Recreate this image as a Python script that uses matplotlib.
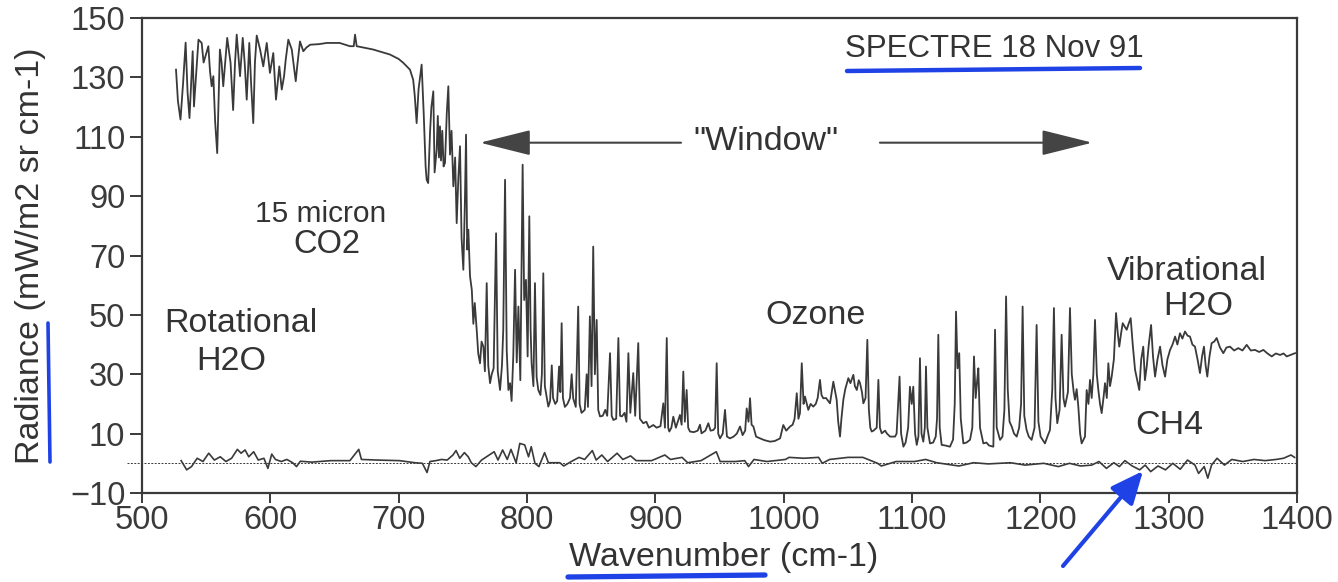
import matplotlib
matplotlib.use("Agg")
import matplotlib.pyplot as plt
from matplotlib.lines import Line2D
from matplotlib.patches import FancyArrowPatch

plt.rcParams['font.family'] = ['Liberation Sans', 'DejaVu Sans']

# ---- data: main spectrum, read region by region ------------------------
wn_rot = [526.5, 528, 530, 532, 534, 535.5, 537, 539.5, 540.5, 542, 544, 546.5, 548, 550, 551.7,
          553, 554.3, 555.6, 557, 558.6, 559.5, 560.7, 562, 563.3, 565, 566.4, 569, 571, 572.5,
          573.8, 575, 576.4, 578.5, 580, 581.6, 583.6, 585, 586.7, 588, 589.4, 592, 594.5, 597.2,
          599.7, 602.3, 604.4, 607, 608.9, 610.7, 612, 614, 616.7, 619.8, 621, 623.1, 625.7, 628,
          631]
rad_rot = [132.6, 122, 115.8, 128, 141.7, 125, 116.3, 138.8, 120.2, 130, 142.7, 141.6, 135, 138,
           140.5, 132, 127, 130.4, 115, 104.5, 120, 139.4, 135, 127, 136, 143.3, 134.9, 119, 135,
           144.4, 138, 130.4, 143.3, 135, 122.5, 141.6, 128, 114.6, 135, 144.1, 139.4, 133.7,
           141.6, 131.5, 138.2, 122.5, 133.7, 125.9, 130.4, 136, 142.7, 139.4, 128.7, 134, 142.1,
           138.8, 140, 141]

wn_co2 = [638, 644, 654, 662, 665, 666, 667.3, 680, 693.2, 700, 703.6, 708.8, 711.3, 712.5, 714,
          715.5, 717.9, 719.5, 721, 721.8, 723, 724.5, 725.5, 727, 728, 729.6, 730.5, 731.4, 732.2,
          733, 734, 735, 736.1, 737.5, 738.7, 740, 741.2, 742.6, 744, 745.2, 746.5, 747.8, 749,
          750.4, 751.6, 752.5, 753.4, 754.3, 755.6, 757, 758.2, 759.3]
rad_co2 = [141.2, 141.6, 141.6, 140.5, 140.5, 144.4, 140.5, 139.4, 137.7, 136.2, 134.9, 132.6,
           129.2, 124, 114.6, 126, 134.3, 118, 100, 95.5, 94.4, 112, 120, 125.3, 98, 105.6, 117,
           103, 113.5, 102, 112, 100, 101.2, 118, 127, 104, 112, 93.3, 103, 80.9, 96, 106.8, 76,
           65.2, 88, 110.7, 72, 78.7, 63, 58.4, 47, 54]

wn_edge = [760.8, 762, 763.4, 764.6, 766, 767.2, 768.6, 769.8, 771.2, 772.5, 774, 775.9, 777.2,
           779, 780.5, 781.5, 782.9, 784.2, 785.5, 786.8, 788, 789.3, 790.7, 792, 793.3, 794.8,
           796.6, 797.8, 799.2, 800.5, 801.8, 802.8, 803.6, 805, 806.2, 807.5, 808.8, 810.5, 811.6,
           812.7, 813.9, 815.5, 816.6, 818, 819.3, 820.3, 822, 823.5, 825, 826, 827, 828, 829.5,
           831.5, 833.5, 834.8, 836, 838, 839.9, 841, 842.5, 845, 846.5, 847.5, 849, 850.3, 851.6,
           852.9, 854.3, 855.5, 856.9, 859, 861, 862.5, 864.7, 866, 867.3, 869.5, 871.2, 872.5, 874,
           876, 877.5, 879, 880.5, 882.8, 884.3, 886.7, 888, 890.6, 893, 895, 898.4]
rad_edge = [45, 37, 33.7, 41, 39.3, 31, 60.7, 33, 27, 30, 32, 77.5, 31, 24.7, 33, 45, 95.5, 38,
            24.7, 27, 21, 36, 65.2, 34, 52.8, 28, 100.6, 55, 61.8, 36, 83.2, 45, 33.7, 26, 60.7, 29,
            24.7, 23, 30, 64, 26, 22, 19.1, 21, 33, 22, 20, 21, 32.6, 24, 47.2, 22, 19, 20, 22, 30,
            21.9, 19, 52.8, 20, 17, 18, 30, 19, 49.5, 26, 73, 30, 48.3, 18, 15.8, 16, 18, 16, 37.1,
            16, 14.6, 15, 42.2, 16, 15.8, 17, 14, 37.1, 17, 30.4, 16, 40.5, 15, 13.5, 14, 12, 12.9]

wn_win = [901, 904, 906.2, 907.5, 908.9, 910, 910.9, 912.5, 914, 916, 917.5, 919.2, 920.5, 921.8,
          923, 924.4, 925.6, 927, 930, 933, 934.8, 936, 939, 941.3, 943, 945.2, 946.6, 947.8, 949,
          950.4, 952.5, 954.3, 955.8, 958.2, 961, 963.5, 966, 968, 970, 971.2, 972.6, 973.8, 975,
          976.4, 978.5, 981.6, 985, 989.4, 993, 997.2]
rad_win = [12, 12.5, 20.2, 12, 42.2, 12, 10.7, 12, 15.7, 12, 14, 16.3, 13, 30.9, 14, 24.7, 12,
           10.7, 10.5, 11, 13, 10.1, 11, 13.5, 11, 11.2, 12, 33.7, 10, 8.4, 10, 18, 9, 8.4, 9, 10,
           12.4, 9.5, 11, 18.5, 14, 21.9, 13, 12.4, 9, 8.4, 7.8, 7.3, 7.5, 8.4]

wn_o3 = [999.7, 1002, 1005, 1007, 1008.5, 1010.2, 1011.5, 1012.7, 1014.1, 1015.5, 1016.6, 1019.2,
         1021, 1023.1, 1025, 1026.5, 1028.3, 1029.5, 1030.9, 1033, 1036.1, 1038.7, 1041.3, 1042.5,
         1043.9, 1045, 1046.5, 1048, 1050.4, 1052, 1054.3, 1055.5, 1057, 1058.5, 1059.5, 1061,
         1062.1, 1063.8, 1065.2, 1066.4, 1067.5, 1068.6, 1070, 1072.5, 1073.8, 1075, 1076.4, 1079,
         1080.5, 1082.9, 1086.8, 1088, 1090.3, 1091.5, 1093.3, 1095, 1097, 1098.4, 1099.8, 1101,
         1102.4, 1103.7, 1105, 1106.2, 1107.4, 1108.8, 1110, 1110.9, 1112, 1114, 1116.5, 1118.5,
         1119.5, 1120.5, 1121.6, 1123.1, 1126, 1129.6]
rad_o3 = [12.9, 11, 12.4, 13, 15, 23.6, 15, 16.9, 33.7, 20, 22.5, 18, 20, 19.1, 20, 22, 28.1, 23,
          21.9, 22, 20.2, 27.5, 21.4, 14, 9, 15, 21.4, 25, 28.7, 27, 29.8, 26, 24.7, 28, 27, 24,
          20.2, 22, 41.6, 18, 12, 10.7, 11, 12, 28.1, 12, 10.1, 11, 10, 9, 9, 10, 29.2, 10, 5.6, 7,
          12, 25.8, 20, 25.8, 10, 6.2, 9, 35.4, 10, 7.3, 12, 32.6, 12, 6.7, 7, 9, 15, 43.3, 12, 6.2,
          6, 5.6]

wn_lines = [1132, 1133.3, 1134.3, 1135.5, 1136.8, 1138, 1140, 1142.5, 1145.2, 1147, 1148.3, 1149.6,
            1150.8, 1151.7, 1153, 1155.6, 1158, 1160, 1163.4, 1164.7, 1166, 1168.6, 1170.5, 1172,
            1173.3, 1174.6, 1176, 1177.7, 1179.5, 1181.6, 1183.5, 1185, 1186.2, 1187.5, 1189.3,
            1191, 1193.2, 1195.5, 1197.1, 1198.5, 1200.2, 1203.6, 1205.5, 1207.5, 1209.3, 1210.6,
            1211.8, 1213.2, 1215, 1216.6, 1218, 1219.2, 1221.5, 1223.1, 1224.5, 1226, 1227, 1228.3,
            1229.6, 1231, 1232.2, 1234.8]
rad_lines = [8, 20, 51.1, 32, 37.1, 15, 6.7, 7, 7.9, 12, 36, 22, 28, 32, 12, 6.7, 7, 6, 5.6, 45,
             12, 7.9, 9, 18, 56.2, 25, 14, 12.4, 10, 9, 12, 20, 52.8, 16, 11.2, 9, 7.9, 12, 46.6,
             14, 9, 6.7, 9, 11.2, 25, 52.3, 22, 13.5, 18, 43.3, 22, 19.1, 24, 52.3, 30, 24, 21.4,
             25, 19.1, 10, 6.7, 9]

wn_vib = [1236.1, 1237.5, 1238.7, 1240, 1241.3, 1242.6, 1244, 1245.2, 1246.5, 1247.8, 1249.2,
          1250.4, 1251.8, 1253, 1254.3, 1255.6, 1257.3, 1259, 1260.3, 1261.5, 1263, 1264.2, 1265.8,
          1267.3, 1268.8, 1270.4, 1272, 1273.8, 1275.5, 1277.1, 1278.6, 1280.2, 1281.5, 1282.9,
          1284.5, 1286.3, 1287.8, 1289.4, 1291.3, 1293.3, 1295.2, 1297.2, 1299, 1301.1, 1303, 1305,
          1306.8, 1308.8, 1310.7, 1312.7, 1314.7, 1316.6, 1318.5, 1320.5, 1322.5, 1324.4, 1326,
          1327.5, 1328.8, 1330.1, 1331.8, 1333.5, 1335.5, 1337.4, 1340, 1342.6, 1345, 1347.8, 1351,
          1354.3, 1357.5, 1360.8, 1364, 1367.3, 1370.5, 1373.8, 1377, 1380.3, 1383.5, 1386.8,
          1389.5, 1392, 1395, 1398.5]
rad_vib = [24.7, 20, 28.1, 22, 30, 48.3, 30, 24.7, 20, 16.9, 22, 27, 22, 33.7, 26, 29.2, 35, 50.6,
           44, 39.3, 44, 47.2, 46, 45, 47, 48.9, 40, 31.5, 28, 24.7, 35, 39.3, 28, 32.6, 40, 46.6,
           36, 29.2, 35, 39.3, 33, 29.2, 35, 38.2, 40, 42.7, 40, 43.8, 42, 44.4, 43, 42.7, 40, 39.3,
           35, 30.4, 36, 39.3, 33, 29.2, 36, 40.5, 41, 42.2, 39, 37.1, 39, 39.3, 38, 38.8, 38, 39.9,
           38, 38.2, 37.5, 38.2, 37, 36, 37, 36.5, 37, 36, 36.5, 37.1]

# ---- data: lower (residual) trace --------------------------------------
resid_wn = [530.5, 534.8, 538.6, 543, 547.5, 552, 556.4, 561, 565.4, 569.8, 574.3, 577.2, 580.3,
            583.2, 587, 590.6, 595, 598.1, 601.1, 604, 608.5, 612.9, 617.4, 620.4, 623.4, 632.3,
            647.1, 662, 668.9, 671, 682.9, 700.7, 712.6, 718.5, 722.1, 724.4, 729, 733.4, 737.8,
            742.3, 744.7, 747.6, 751.2, 754.2, 756.6, 760.2, 764.6, 770.6, 774.4, 777.4, 781,
            784.6, 787.5, 791.5, 794.4, 798.2, 801.2, 803.3, 806.2, 809.3, 813.7, 816.7, 825.6,
            828.6, 834.5, 840.5, 844.9, 850.9, 853.9, 858.3, 862.8, 870.2, 874.7, 880.7, 885.1,
            897.1, 907.4, 911.8, 920.8, 925.2, 935.6, 947.5, 950.5, 962.4, 969.7, 972.6, 976.9,
            987, 1001.4, 1004.2, 1015.7, 1027.2, 1030.1, 1035.8, 1050.2, 1061.7, 1073.2, 1076.1,
            1087.6, 1102, 1110.6, 1119.2, 1136.5, 1148, 1159.4, 1176.7, 1188.2, 1202.6, 1214.1,
            1222.7, 1231.4, 1240, 1245.7, 1251.5, 1257.3, 1261.6, 1265.9, 1271.6, 1277.4, 1281.7,
            1286, 1291.7, 1297.5, 1303.2, 1309, 1314.7, 1320.5, 1323.3, 1327.7, 1330.5, 1333.4,
            1337.7, 1343.5, 1349.2, 1357.8, 1366.5, 1375.1, 1383.7, 1389.5, 1395.3, 1398.1]
resid_val = [0.9, -2.2, -1.1, 1.7, 0.6, 3.4, 1.1, 2.2, 0.6, 1.7, 4.7, 3.4, 4.5, 2.2, 3.9, 1.1, 1.7,
             -1.7, 3.1, 1.3, 0.6, 1.3, 0.2, -1.1, 0.7, 0.4, 0.9, 0.9, 4.7, 1.3, 1.1, 0.9, 0.2, 0,
             -3.1, 0.6, 0.9, 1.3, 1.1, 2.8, 4.3, 1.7, 3.6, 2.2, 0.2, -1.1, 1.1, 2.8, 3.9, 1.1, 4.5,
             1.3, 4.7, 0.2, 6.7, 6.2, 2.2, 5.6, 0, -1.1, 3.6, 0.2, 0.2, -0.9, 0.6, 2, 1.3, 4.3, 1.1,
             2.8, 0.6, 3.4, 1.3, 2.5, 0.9, 0.9, 2.8, 1.3, 2, 0.2, 0.9, 3.9, 0.6, 0.6, 0.9, -1.1,
             1.3, 0.6, 1.3, 2, 1.7, 2, 0, 1.3, 2, 2, 0, -0.9, 0.6, 0.6, 1.3, 0.2, -0.9, 0.2, -0.2,
             0.2, -0.6, 0, -1.1, 0, -0.9, -0.6, 0.6, -1.7, 0.2, -1.1, 0.9, -0.9, -2.2, -0.6, -2.8,
             -0.9, -2.2, 0, -2, 1.1, -0.6, -3.4, -1.1, -5, -0.6, 1.7, -0.6, 1.3, 0.6, 1.3, 0.9,
             1.3, 1.7, 2.8, 2]

x_ticks = [500, 600, 700, 800, 900, 1000, 1100, 1200, 1300, 1400]
y_ticks = [-10, 10, 30, 50, 70, 90, 110, 130, 150]

wavenumber = wn_rot + wn_co2 + wn_edge + wn_win + wn_o3 + wn_lines + wn_vib
radiance = rad_rot + rad_co2 + rad_edge + rad_win + rad_o3 + rad_lines + rad_vib

# ---- figure -----------------------------------------------------------
W, H = 1338, 582
fig = plt.figure(figsize=(W / 100, H / 100), dpi=100)
ax = fig.add_axes([142 / W, (H - 493) / H, 1155 / W, 475 / H])

ink = '#3a3a3a'
ax.plot(wavenumber, radiance, color=ink, lw=1.3)
ax.plot(resid_wn, resid_val, color=ink, lw=1.2)
ax.plot([488, 1400], [0, 0], color=ink, lw=0.7, ls=(0, (2, 1.5)), clip_on=False)

ax.set_xlim(500, 1400)
ax.set_ylim(-10, 150)
ax.set_xticks(x_ticks)
ax.set_yticks(y_ticks)
ax.tick_params(direction='out', width=1.4, colors=ink, labelsize=23.5)
ax.tick_params(axis='x', length=7.5, pad=0.8)
ax.tick_params(axis='y', length=8.5, pad=3.5)
for s in ax.spines.values():
    s.set_color(ink)
    s.set_linewidth(1.6)

tc = '#333333'
fs = 24.5
ax.text(1164, 139.5, 'SPECTRE 18 Nov 91', fontsize=22.5, color=tc, ha='center', va='center')
ax.text(986, 108.3, '"Window"', fontsize=fs, color=tc, ha='center', va='center')
ax.text(639, 84, '15 micron', fontsize=21.5, color=tc, ha='center', va='center')
ax.text(644, 73.6, 'CO2', fontsize=23.5, color=tc, ha='center', va='center')
ax.text(577, 47, 'Rotational', fontsize=fs, color=tc, ha='center', va='center')
ax.text(569.5, 34.2, 'H2O', fontsize=fs, color=tc, ha='center', va='center')
ax.text(1024.6, 49.7, 'Ozone', fontsize=fs, color=tc, ha='center', va='center')
ax.text(1314.5, 64.5, 'Vibrational', fontsize=fs, color=tc, ha='center', va='center')
ax.text(1323, 52.7, 'H2O', fontsize=fs, color=tc, ha='center', va='center')
ax.text(1300.5, 12.6, 'CH4', fontsize=fs, color=tc, ha='center', va='center')

arrow_kw = dict(arrowstyle='-|>,head_length=1.6,head_width=0.4', color='#444444', lw=1.5,
                mutation_scale=20, shrinkA=0, shrinkB=0)
ax.annotate('', xy=(763.4, 108), xytext=(920, 108), arrowprops=arrow_kw)
ax.annotate('', xy=(1240.5, 108), xytext=(1075, 108), arrowprops=arrow_kw)

fig.text(31 / W, 1 - 256 / H, 'Radiance (mW/m2 sr cm-1)', rotation=90, fontsize=24.5, color=tc,
         ha='center', va='center')
fig.text(724 / W, 1 - 566 / H, 'Wavenumber (cm-1)', fontsize=24.5, color=tc, ha='center',
         va='baseline')

# ---- hand-drawn blue marks -------------------------------------------
blue = '#1f42e6'
def px(x, y):
    return x / W, 1 - y / H

def blue_line(p0, p1, lw):
    (x0, y0), (x1, y1) = px(*p0), px(*p1)
    fig.add_artist(Line2D([x0, x1], [y0, y1], transform=fig.transFigure, color=blue, lw=lw,
                          solid_capstyle='round'))

blue_line((847, 71), (1140, 68), 3.2)
blue_line((568, 577), (765, 575), 3.8)
blue_line((48, 323), (50, 462), 2.6)
fig.add_artist(FancyArrowPatch(
    px(1063, 566), px(1143, 471), transform=fig.transFigure, color=blue, lw=3,
    arrowstyle='-|>,head_length=0.9,head_width=0.4', mutation_scale=22, shrinkA=0, shrinkB=0))

fig.savefig('out.png', dpi=100)
